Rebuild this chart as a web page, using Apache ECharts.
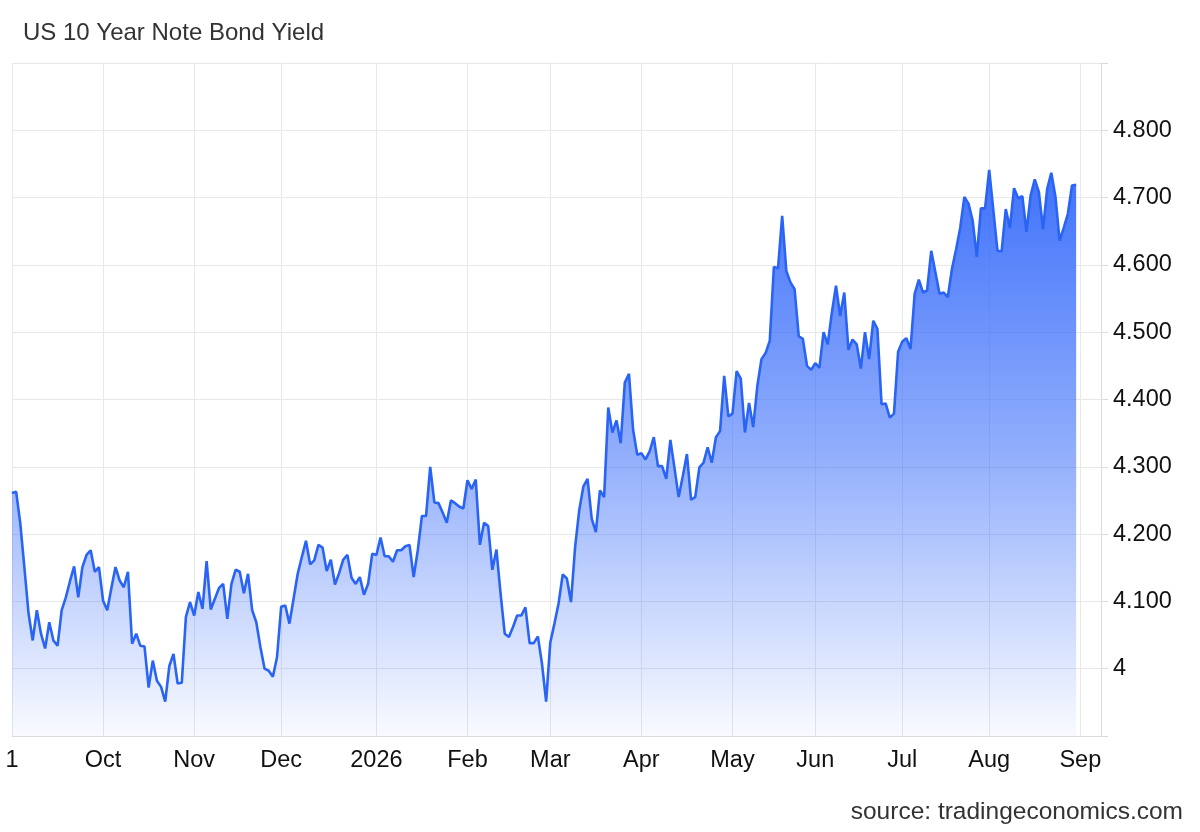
<!DOCTYPE html>
<html>
<head>
<meta charset="utf-8">
<title>US 10 Year Note Bond Yield</title>
<script src="https://cdn.jsdelivr.net/npm/echarts@6.0.0/dist/echarts.min.js"></script>
<style>
  html, body { margin: 0; padding: 0; background: #fff; }
  #chart { width: 1200px; height: 832px; }
</style>
</head>
<body>
<div id="chart"></div>
<script>
// one value per trading day
const yields = [
  4.261, 4.263, 4.216, 4.150, 4.082, 4.042, 4.087, 4.052, 4.030, 4.069,
  4.042, 4.034, 4.087, 4.106, 4.130, 4.152, 4.106, 4.151, 4.169, 4.176,
  4.144, 4.151, 4.101, 4.087, 4.120, 4.151, 4.131, 4.121, 4.144, 4.037,
  4.052, 4.034, 4.033, 3.972, 4.012, 3.982, 3.973, 3.951, 4.004, 4.022,
  3.978, 3.979, 4.077, 4.099, 4.079, 4.114, 4.089, 4.160, 4.088, 4.104,
  4.120, 4.126, 4.074, 4.126, 4.147, 4.144, 4.112, 4.141, 4.087, 4.069,
  4.032, 4.000, 3.997, 3.988, 4.017, 4.092, 4.094, 4.067, 4.104, 4.141,
  4.166, 4.190, 4.155, 4.161, 4.184, 4.180, 4.145, 4.162, 4.125, 4.142,
  4.162, 4.169, 4.135, 4.126, 4.136, 4.110, 4.126, 4.171, 4.169, 4.195,
  4.167, 4.167, 4.159, 4.176, 4.176, 4.182, 4.184, 4.136, 4.176, 4.227,
  4.227, 4.300, 4.247, 4.246, 4.232, 4.217, 4.250, 4.246, 4.241, 4.238,
  4.280, 4.267, 4.281, 4.184, 4.217, 4.212, 4.147, 4.177, 4.111, 4.052,
  4.047, 4.062, 4.079, 4.079, 4.091, 4.038, 4.038, 4.048, 4.007, 3.951,
  4.039, 4.067, 4.097, 4.140, 4.134, 4.099, 4.181, 4.236, 4.271, 4.282,
  4.223, 4.203, 4.265, 4.255, 4.388, 4.351, 4.369, 4.335, 4.425, 4.438,
  4.355, 4.318, 4.320, 4.311, 4.323, 4.344, 4.301, 4.301, 4.282, 4.340,
  4.298, 4.255, 4.286, 4.319, 4.251, 4.255, 4.299, 4.306, 4.329, 4.306,
  4.344, 4.353, 4.435, 4.375, 4.379, 4.442, 4.431, 4.351, 4.395, 4.359,
  4.420, 4.460, 4.469, 4.487, 4.597, 4.595, 4.673, 4.591, 4.574, 4.564,
  4.494, 4.490, 4.450, 4.444, 4.454, 4.447, 4.500, 4.482, 4.529, 4.569,
  4.524, 4.559, 4.474, 4.489, 4.482, 4.446, 4.500, 4.460, 4.517, 4.505,
  4.393, 4.394, 4.373, 4.379, 4.471, 4.486, 4.491, 4.475, 4.557, 4.578,
  4.559, 4.562, 4.621, 4.589, 4.557, 4.559, 4.552, 4.594, 4.623, 4.655,
  4.701, 4.691, 4.666, 4.612, 4.684, 4.684, 4.741, 4.681, 4.621, 4.620,
  4.683, 4.655, 4.714, 4.699, 4.702, 4.649, 4.703, 4.727, 4.708, 4.653,
  4.713, 4.737, 4.701, 4.636, 4.655, 4.676, 4.718, 4.719
];

// x axis month ticks: label and the trading-day slot they sit on
const monthLabels = ["1", "Oct", "Nov", "Dec", "2026", "Feb", "Mar", "Apr", "May", "Jun", "Jul", "Aug", "Sep"];
const monthSlots  = [0, 22, 44, 65, 88, 110, 130, 152, 174, 194, 215, 236, 258];

// axis runs a few empty slots past the last close
const slotCount = 264;

const FONT = "'Liberation Sans', Arial, Helvetica, sans-serif";

const slots = Array.from({ length: slotCount }, (_, i) => String(i));
const labelAt = {};
monthSlots.forEach((s, k) => { labelAt[s] = monthLabels[k]; });
const isMonth = (i) => labelAt[i] !== undefined;

const chart = echarts.init(document.getElementById("chart"), null, { renderer: "canvas" });

const option = {
  backgroundColor: "#fff",
  animation: false,
  grid: { left: 12, right: 99, top: 63, bottom: 96, containLabel: false },
  graphic: [
    {
      type: "text", x: 23, y: 33,
      style: { text: "US 10 Year Note Bond Yield", fill: "#333", font: `24px ${FONT}`, verticalAlign: "middle" },
    },
    {
      type: "text", x: 1183, y: 812,
      style: { text: "source: tradingeconomics.com", fill: "#333", font: `24.5px ${FONT}`, align: "right", verticalAlign: "middle" },
    },
  ],
  xAxis: {
    type: "category",
    data: slots,
    boundaryGap: false,
    axisLine: { lineStyle: { color: "#dcdcdc", width: 1 } },
    axisTick: { show: false },
    axisLabel: {
      interval: (i) => isMonth(i),
      formatter: (v) => labelAt[+v] || "",
      color: "#111",
      fontFamily: FONT,
      fontSize: 23.5,
      margin: 13,
    },
    splitLine: {
      show: true,
      interval: (i) => isMonth(i),
      lineStyle: { color: "#e8e8e8", width: 1 },
    },
  },
  yAxis: {
    type: "value",
    position: "right",
    min: 3.9,
    max: 4.9,
    interval: 0.1,
    axisLine: { show: true, lineStyle: { color: "#dcdcdc" } },
    axisTick: { show: true, length: 7, lineStyle: { color: "#dcdcdc" } },
    axisLabel: {
      color: "#111",
      fontFamily: FONT,
      fontSize: 23.5,
      margin: 12,
      formatter: (v) => {
        const r = Math.round(v * 10) / 10;
        if (r < 4 || r > 4.8) return "";
        return r === 4 ? "4" : r.toFixed(3);
      },
    },
    splitLine: { lineStyle: { color: "#e8e8e8", width: 1 } },
  },
  series: [
    {
      type: "line",
      data: yields,
      symbol: "none",
      smooth: false,
      lineStyle: { color: "#2a64f4", width: 2.6 },
      areaStyle: {
        opacity: 1,
        color: new echarts.graphic.LinearGradient(0, 0, 0, 1, [
          { offset: 0, color: "rgba(56,108,250,0.96)" },
          { offset: 0.5, color: "rgba(56,108,250,0.55)" },
          { offset: 1, color: "rgba(56,108,250,0.03)" },
        ]),
      },
    },
  ],
};

chart.setOption(option);
</script>
</body>
</html>
